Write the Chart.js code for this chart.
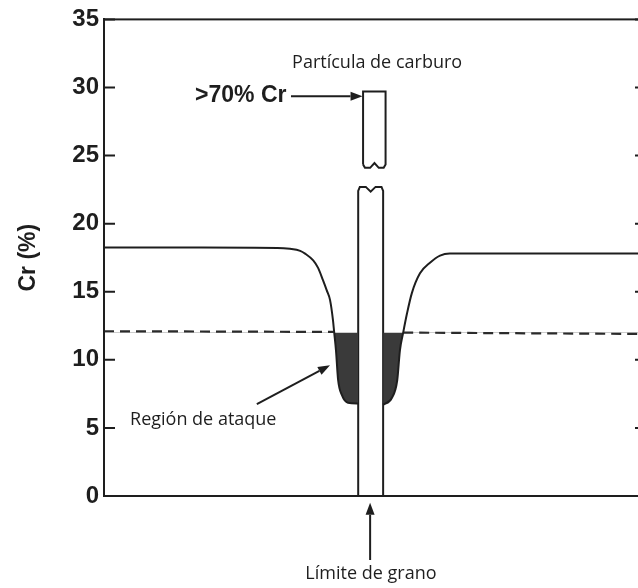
<!DOCTYPE html>
<html>
<head>
<meta charset="utf-8">
<script src="https://cdn.jsdelivr.net/npm/chart.js@4.4.1/dist/chart.umd.min.js"></script>
<style>
  html, body { margin: 0; padding: 0; background: #fff; overflow: hidden; }
  #wrap { width: 638px; height: 588px; overflow: hidden; }
</style>
</head>
<body>
<div id="wrap"><canvas id="chart" width="660" height="588"></canvas></div>
<script>
// distance across the grain boundary (arbitrary units, 0 = boundary)
const leftX   = [-49, -31, -17, -14.7, -12.8, -11.9, -10.4, -9.5, -8.6, -7.9, -7.3, -6.75, -6.55, -6.2, -5.8, -5.1, -4.0, -2.1];
const leftCr  = [18.25, 18.25, 18.22, 18.15, 18.0, 17.8, 17.3, 16.75, 15.85, 15.1, 14.4, 12.9, 12.1, 10.7, 8.5, 7.4, 6.85, 6.8];
const rightX  = [2.5, 4.1, 5.1, 5.6, 6.2, 6.9, 7.8, 9.3, 11.2, 13.0, 14.8, 30, 51];
const rightCr = [6.7, 7.2, 8.5, 10.7, 12.0, 13.4, 14.9, 16.35, 17.15, 17.65, 17.8, 17.8, 17.8];

// 12 % Cr limit (dashed), broken where it meets the attacked zone
const limitX  = [-49, -6.6, 0, 6.2, 51];
const limitCr = [12.1, 12.05, null, 12.0, 11.9];

// carbide particle at the boundary, drawn in two pieces with a break
const lowBarX   = [-2.1, -2.1, -1.8, -0.7, 0.2, 1.1, 2.2, 2.5, 2.5];
const lowBarCr  = [0, 22.4, 22.7, 22.7, 22.35, 22.7, 22.7, 22.4, 0];
const highBarX  = [-1.2, -1.2, 2.95, 2.95, 2.6, 1.7, 0.9, 0.1, -0.85, -1.2];
const highBarCr = [24.35, 29.7, 29.7, 24.35, 24.1, 24.1, 24.45, 24.1, 24.1, 24.35];

const crTicks = [0, 5, 10, 15, 20, 25, 30, 35];

const ink = '#1e1e1e';
const shade = '#3a3a3a';

// text labels and arrows, anchored in data units
const notes = [
    { text: 'Partícula de carburo', x: -14.3, y: 31.8, align: 'left', font: '18px "Open Sans"' },
    { text: '>70% Cr', x: -32.2, y: 29.4, align: 'left', font: 'bold 23px "Liberation Sans"' },
    { text: 'Región de ataque', x: -44.2, y: 5.6, align: 'left', font: '18px "Open Sans"' },
    { text: 'Límite de grano', x: 0.25, y: -5.75, align: 'center', font: '18px "Open Sans"' }
];
const arrows = [
    { from: [-14.5, 29.35], to: [-1.3, 29.35] },
    { from: [-20.8, 6.75], to: [-7.3, 9.6] },
    { from: [0.1, -4.7], to: [0.1, -0.5] }
];

function zip(xs, ys) {
    return xs.map((x, i) => ({ x: x, y: ys[i] }));
}

function drawArrow(ctx, x1, y1, x2, y2) {
    const a = Math.atan2(y2 - y1, x2 - x1);
    const len = 12, half = 4.5;
    const bx = x2 - len * Math.cos(a), by = y2 - len * Math.sin(a);
    ctx.beginPath();
    ctx.moveTo(x1, y1);
    ctx.lineTo(bx, by);
    ctx.stroke();
    ctx.beginPath();
    ctx.moveTo(x2, y2);
    ctx.lineTo(bx + half * Math.sin(a), by - half * Math.cos(a));
    ctx.lineTo(bx - half * Math.sin(a), by + half * Math.cos(a));
    ctx.closePath();
    ctx.fill();
}

const framePlugin = {
    id: 'frame',
    afterDraw(chart) {
        const { ctx, chartArea: ca, scales } = chart;
        const xs = scales.x, ys = scales.y;
        ctx.save();
        ctx.strokeStyle = ink;
        ctx.fillStyle = ink;
        ctx.lineWidth = 2;
        ctx.strokeRect(ca.left, ca.top, ca.right - ca.left, ca.bottom - ca.top);

        // inward tick marks on both sides
        ys.ticks.forEach(t => {
            const py = ys.getPixelForValue(t.value);
            ctx.beginPath();
            ctx.moveTo(ca.left, py);
            ctx.lineTo(ca.left + 11, py);
            ctx.moveTo(ca.right - 11, py);
            ctx.lineTo(ca.right, py);
            ctx.stroke();
        });

        arrows.forEach(a => {
            drawArrow(ctx,
                xs.getPixelForValue(a.from[0]), ys.getPixelForValue(a.from[1]),
                xs.getPixelForValue(a.to[0]), ys.getPixelForValue(a.to[1]));
        });

        ctx.textBaseline = 'middle';
        notes.forEach(n => {
            ctx.font = n.font;
            ctx.textAlign = n.align;
            ctx.fillText(n.text, xs.getPixelForValue(n.x), ys.getPixelForValue(n.y));
        });
        ctx.restore();
    }
};

const curveStyle = {
    borderColor: ink,
    borderWidth: 2,
    pointRadius: 0,
    cubicInterpolationMode: 'monotone',
    fill: { target: { value: 12 }, above: 'rgba(0,0,0,0)', below: shade }
};

const barStyle = {
    borderColor: ink,
    borderWidth: 2,
    pointRadius: 0,
    tension: 0,
    fill: false
};

const ctx = document.getElementById('chart').getContext('2d');
new Chart(ctx, {
    type: 'line',
    data: {
        datasets: [
            Object.assign({ data: zip(leftX, leftCr) }, curveStyle),
            Object.assign({ data: zip(rightX, rightCr) }, curveStyle),
            {
                data: zip(limitX, limitCr),
                borderColor: '#2a2a2a',
                borderWidth: 2.2,
                borderDash: [10, 6],
                pointRadius: 0,
                spanGaps: false,
                fill: false
            },
            Object.assign({ data: zip(lowBarX, lowBarCr) }, barStyle),
            Object.assign({ data: zip(highBarX, highBarCr) }, barStyle)
        ]
    },
    options: {
        responsive: false,
        animation: false,
        layout: { padding: { top: 19, right: 14, bottom: 0, left: 0 } },
        plugins: {
            legend: { display: false },
            tooltip: { enabled: false }
        },
        scales: {
            x: {
                type: 'linear',
                min: -49,
                max: 51,
                ticks: { display: false },
                grid: { display: false, drawTicks: false },
                border: { display: true, color: ink, width: 2 },
                afterFit: s => { s.height = 92; }
            },
            y: {
                min: 0,
                max: 35,
                afterBuildTicks: s => { s.ticks = crTicks.map(v => ({ value: v })); },
                ticks: {
                    color: ink,
                    padding: 5,
                    font: { family: '"Liberation Sans", Arial, sans-serif', size: 24, weight: 'bold' }
                },
                grid: { display: false, drawTicks: false },
                border: { display: true, color: ink, width: 2 },
                title: {
                    display: true,
                    text: 'Cr (%)',
                    color: ink,
                    padding: { top: 15, bottom: 0 },
                    font: { family: '"Liberation Sans", Arial, sans-serif', size: 23, weight: 'bold' }
                },
                afterFit: s => { s.width = 104; }
            }
        }
    },
    plugins: [framePlugin]
});
</script>
</body>
</html>
